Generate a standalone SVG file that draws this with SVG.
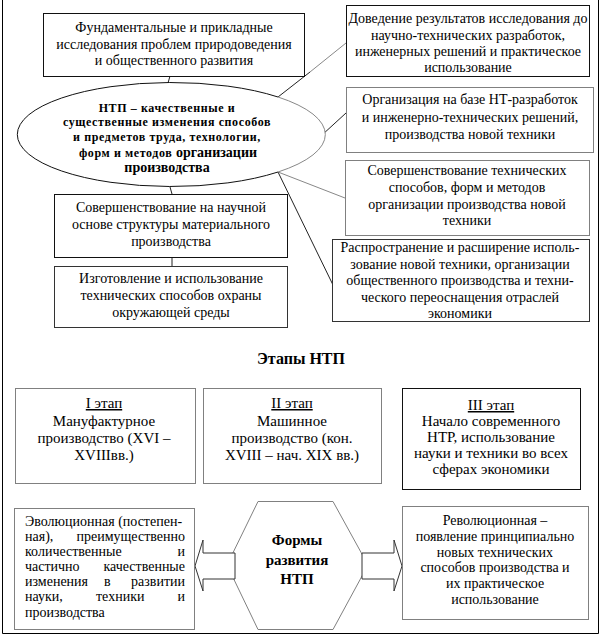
<svg xmlns="http://www.w3.org/2000/svg" width="602" height="640" viewBox="0 0 602 640" font-family="'Liberation Serif', 'Times New Roman', 'DejaVu Serif', serif">
<style>
text{font-family:"Liberation Serif","Times New Roman","DejaVu Serif",serif;fill:#000;}
.t{font-size:14px;text-anchor:middle;}
.tl{font-size:14px;}
.tr{font-size:14px;text-anchor:end;}
.st{font-size:15px;text-anchor:middle;}
.eb{font-size:12px;font-weight:bold;letter-spacing:0.6px;text-anchor:middle;}
.big{font-size:14px;letter-spacing:0;}
.h{font-size:16px;font-weight:bold;text-anchor:middle;}
.hx{font-size:15px;font-weight:bold;text-anchor:middle;}
.bk{fill:#fff;stroke:#111;stroke-width:1;}
.gr{fill:#fff;stroke:#808080;stroke-width:1;}
.ln{fill:none;stroke:#222;stroke-width:1;}
.lg{fill:none;stroke:#888;stroke-width:1;}
</style>
<rect width="602" height="640" fill="#fff"/>
<path d="M2.5,0 V633.5 H598.5 V0" fill="none" stroke="#000" stroke-width="1"/>

<g id="connectors">
<line class="ln" x1="170" y1="76" x2="168" y2="83"/>
<line class="ln" x1="278" y1="97" x2="310" y2="72"/>
<line class="lg" x1="310" y1="72" x2="346" y2="43"/>
<line class="ln" x1="322" y1="135" x2="346" y2="113"/>
<line class="lg" x1="278" y1="172" x2="345" y2="198"/>
<line class="ln" x1="278" y1="172" x2="333" y2="285"/>
<line class="ln" x1="170" y1="187" x2="172" y2="194"/>
<line class="ln" x1="172" y1="257" x2="172" y2="266"/>
</g>

<g id="ellipse-ntp">
<path d="M278,172 A154,52 0 1 1 278,97" fill="#fff" stroke="#111" stroke-width="1"/>
<path d="M278,97 A154,52 0 0 1 278,172 Z" fill="#fff" stroke="none"/>
<path d="M278,97 A154,52 0 0 1 278,172" fill="none" stroke="#888" stroke-width="1"/>
<text class="eb" x="167" y="112">НТП – качественные и</text>
<text class="eb" x="167" y="126">существенные изменения способов</text>
<text class="eb" x="167" y="141">и предметов труда, технологии,</text>
<text class="eb" x="168" y="157">форм и методов <tspan class="big">организации</tspan></text>
<text class="eb big" x="167" y="172">производства</text>
</g>

<g id="box-fund">
<rect class="bk" x="43.5" y="13.5" width="261" height="63"/>
<text class="t" x="174" y="32">Фундаментальные и прикладные</text>
<text class="t" x="174" y="48.5">исследования проблем природоведения</text>
<text class="t" x="174" y="65">и общественного развития</text>
</g>

<g id="box-dovedenie">
<rect class="bk" x="346.5" y="5.5" width="243" height="71"/>
<text class="t" x="468" y="23">Доведение результатов исследования до</text>
<text class="t" x="468" y="39.5">научно-технических разработок,</text>
<text class="t" x="468" y="56">инженерных решений и практическое</text>
<text class="t" x="468" y="72">использование</text>
</g>

<g id="box-organizatsiya">
<rect class="gr" x="346.5" y="87.5" width="247" height="65"/>
<text class="t" x="470" y="104">Организация на базе НТ-разработок</text>
<text class="t" x="470" y="121.5">и инженерно-технических решений,</text>
<text class="t" x="470" y="139">производства новой техники</text>
</g>

<g id="box-sovershenstvovanie-tekh">
<rect class="gr" x="345.5" y="160.5" width="244" height="75"/>
<text class="t" x="467" y="175">Совершенствование технических</text>
<text class="t" x="467" y="192">способов, форм и методов</text>
<text class="t" x="467" y="209">организации производства новой</text>
<text class="t" x="467" y="225">техники</text>
</g>

<g id="box-rasprostranenie">
<rect x="332.5" y="239.5" width="257" height="82" fill="#fff" stroke="#333" stroke-width="1"/>
<text class="t" x="460" y="252">Распространение и расширение исполь-</text>
<text class="t" x="460" y="268.5">зование новой техники, организации</text>
<text class="t" x="460" y="285">общественного производства и техни-</text>
<text class="t" x="460" y="301.5">ческого переоснащения отраслей</text>
<text class="t" x="460" y="318">экономики</text>
</g>

<g id="box-sovershenstvovanie-nauch">
<rect class="bk" x="54.5" y="194.5" width="233" height="63"/>
<text class="t" x="171" y="212">Совершенствование на научной</text>
<text class="t" x="171" y="229">основе структуры материального</text>
<text class="t" x="171" y="246">производства</text>
</g>

<g id="box-izgotovlenie">
<rect x="54.5" y="266.5" width="233" height="61" fill="#fff" stroke="#333" stroke-width="1"/>
<text class="t" x="171" y="283">Изготовление и использование</text>
<text class="t" x="171" y="300">технических способов охраны</text>
<text class="t" x="171" y="317">окружающей среды</text>
</g>

<g id="heading">
<text class="h" x="301" y="364">Этапы НТП</text>
</g>

<g id="stage-1">
<rect class="gr" x="15.5" y="388.5" width="180" height="95"/>
<text class="st" x="104" y="408" text-decoration="underline">I этап </text>
<text class="st" x="104" y="426">Мануфактурное</text>
<text class="st" x="104" y="443">производство (XVI –</text>
<text class="st" x="104" y="460">XVIIIвв.)</text>
</g>

<g id="stage-2">
<rect class="gr" x="203.5" y="388.5" width="178" height="95"/>
<text class="st" x="292" y="408" text-decoration="underline">II этап</text>
<text class="st" x="292" y="426">Машинное</text>
<text class="st" x="292" y="443">производство (кон.</text>
<text class="st" x="292" y="460">XVIII – нач. XIX вв.)</text>
</g>

<g id="stage-3">
<rect class="bk" x="402.5" y="388.5" width="178" height="101"/>
<text class="st" x="491" y="410" text-decoration="underline">III этап</text>
<text class="st" x="491" y="426">Начало современного</text>
<text class="st" x="491" y="442">НТР, использование</text>
<text class="st" x="491" y="458">науки и техники во всех</text>
<text class="st" x="491" y="474">сферах экономики</text>
</g>

<g id="hexagon-formy">
<polygon class="gr" points="258,501.5 333,501.5 368,565 333,629.5 258,629.5 227,565"/>
<text class="hx" x="297" y="545">Формы</text>
<text class="hx" x="297" y="565">развития</text>
<text class="hx" x="297" y="584">НТП</text>
</g>

<g id="arrow-left">
<polygon points="235,553 203,553 203,540 195,566 203,591 203,579 235,579" fill="#fff" stroke="#333" stroke-width="1"/>
</g>
<g id="arrow-right">
<polygon points="362,553 394,553 394,540 402,566 394,591 394,579 362,579" fill="#fff" stroke="#333" stroke-width="1"/>
</g>

<g id="box-evolyutsionnaya">
<rect class="gr" x="14.5" y="508.5" width="180" height="121"/>
<text class="tl" x="25" y="526">Эволюционная (постепен-</text>
<text class="tl" x="25" y="541">ная),</text><text class="tr" x="185" y="541">преимущественно</text>
<text class="tl" x="25" y="556">количественные</text><text class="tr" x="185" y="556">и</text>
<text class="tl" x="25" y="571">частично</text><text class="tr" x="185" y="571">качественные</text>
<text class="tl" x="25" y="586">изменения</text><text class="tl" x="104" y="586">в</text><text class="tr" x="185" y="586">развитии</text>
<text class="tl" x="25" y="601">науки,</text><text class="tl" x="96" y="601">техники</text><text class="tr" x="185" y="601">и</text>
<text class="tl" x="25" y="617">производства</text>
</g>

<g id="box-revolyutsionnaya">
<rect class="gr" x="402.5" y="506.5" width="186" height="113"/>
<text class="t" x="495" y="525">Революционная –</text>
<text class="t" x="495" y="541">появление принципиально</text>
<text class="t" x="495" y="557">новых технических</text>
<text class="t" x="495" y="572">способов производства и</text>
<text class="t" x="495" y="588">их практическое</text>
<text class="t" x="495" y="604">использование</text>
</g>
</svg>
